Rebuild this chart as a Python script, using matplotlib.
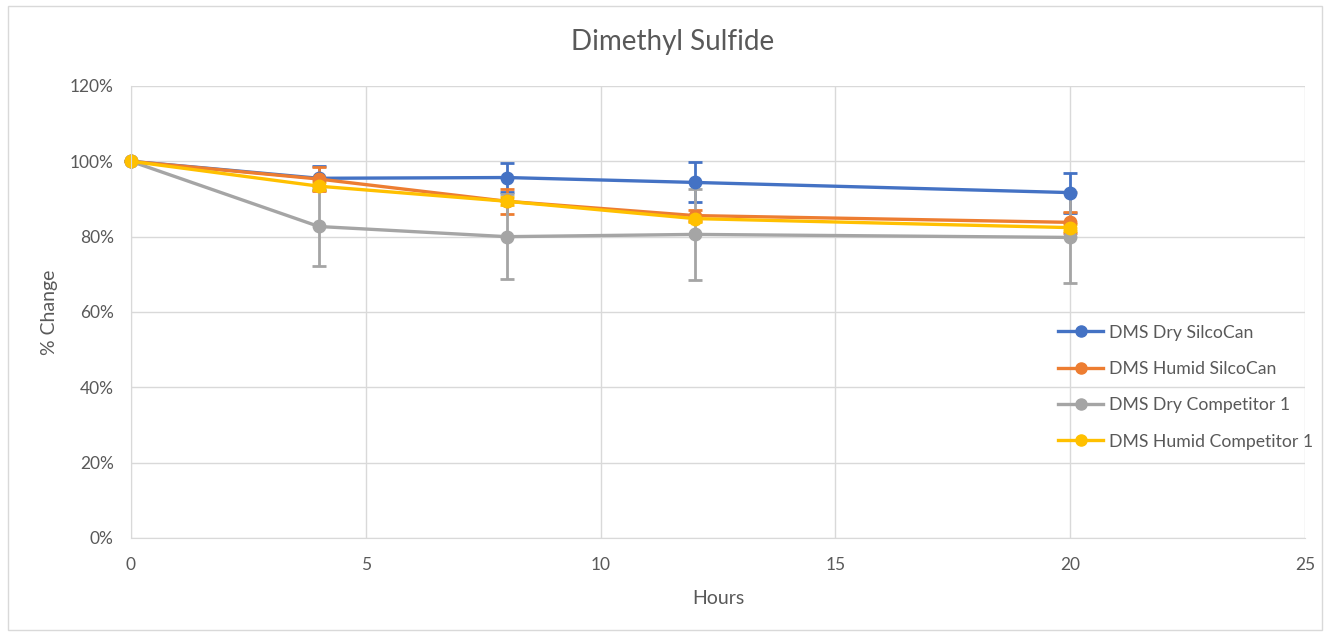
import matplotlib.pyplot as plt
from matplotlib.lines import Line2D
from matplotlib.patches import Rectangle
from matplotlib.ticker import FuncFormatter

hours = [0, 4, 8, 12, 20]

dry_silcocan = [100, 95.5, 95.7, 94.4, 91.7]
dry_silcocan_err = [0, 3.2, 3.8, 5.3, 5.3]

humid_silcocan = [100, 95.3, 89.4, 85.6, 83.8]
humid_silcocan_err = [0, 3.2, 3.3, 1.5, 2.7]

dry_comp = [100, 82.7, 80.0, 80.6, 79.8]
dry_comp_err = [0, 10.4, 11.3, 12.0, 12.0]

humid_comp = [100, 93.4, 89.4, 84.8, 82.4]
humid_comp_err = [0, 1.0, 1.0, 1.0, 1.0]

series = [
    ('DMS Dry SilcoCan', dry_silcocan, dry_silcocan_err, '#4472C4'),
    ('DMS Humid SilcoCan', humid_silcocan, humid_silcocan_err, '#ED7D31'),
    ('DMS Dry Competitor 1', dry_comp, dry_comp_err, '#A5A5A5'),
    ('DMS Humid Competitor 1', humid_comp, humid_comp_err, '#FFC000'),
]

plt.rcParams['font.family'] = ['Lato', 'DejaVu Sans']
text_color = '#595959'
grid_color = '#D9D9D9'

W, H = 1326, 634
fig = plt.figure(figsize=(W / 100, H / 100), dpi=100)
ax = fig.add_axes([131 / W, 1 - 538 / H, (1305 - 131) / W, (538 - 86) / H])

handles = []
for name, vals, err, color in series:
    ax.errorbar(hours, vals, yerr=err, color=color, lw=2.4, marker='o', ms=9,
                capsize=5, capthick=2, elinewidth=2, clip_on=False)
    handles.append(Line2D([], [], color=color, lw=2.4, marker='o', ms=8, label=name))

ax.set_xlim(0, 25)
ax.set_ylim(0, 120)
ax.set_xticks(range(0, 26, 5))
ax.set_yticks(range(0, 121, 20))
ax.yaxis.set_major_formatter(FuncFormatter(lambda v, p: f'{v:.0f}%'))
ax.tick_params(length=0, labelsize=12.5, colors=text_color)
ax.tick_params(axis='x', pad=14)
ax.tick_params(axis='y', pad=12.5)
ax.grid(True, color=grid_color, lw=1)
ax.set_axisbelow(True)
for side, sp in ax.spines.items():
    if side in ('top', 'right'):
        sp.set_visible(False)
    else:
        sp.set_color(grid_color)

fig.text(673 / W, 1 - 42 / H, 'Dimethyl Sulfide', fontsize=20, color=text_color,
         ha='center', va='center')
fig.text(718 / W, 1 - 598 / H, 'Hours', fontsize=14, color=text_color,
         ha='center', va='center')
fig.text(50 / W, 1 - 312 / H, '% Change', fontsize=14, color=text_color,
         ha='center', va='center', rotation=90)

ax.legend(handles=handles, loc='upper left', bbox_to_anchor=(0.79, 0.472), frameon=False,
          fontsize=12.7, labelcolor=text_color, handlelength=2.5, borderpad=0,
          labelspacing=1.15, borderaxespad=0, handletextpad=0.35)

fig.patches.append(Rectangle((8 / W, 4 / H), 1314 / W, 624 / H,
                             transform=fig.transFigure, fill=False,
                             edgecolor='#D9D9D9', lw=1))

fig.savefig('out.png', dpi=100)
